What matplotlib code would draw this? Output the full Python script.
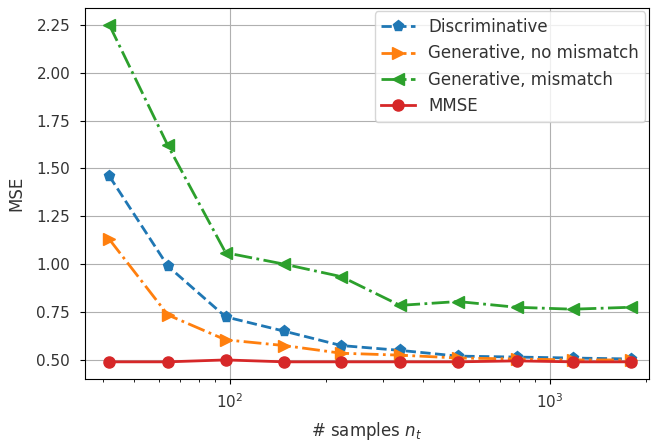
import numpy as np
import matplotlib.pyplot as plt

# number of samples per point (log-spaced)
n_samples = [42, 64, 97, 148, 223, 340, 516, 787, 1177, 1787]

mse_discriminative = [1.46, 0.99, 0.725, 0.65, 0.575, 0.55, 0.52, 0.515, 0.51, 0.505]
mse_gen_no_mismatch = [1.13, 0.735, 0.605, 0.575, 0.535, 0.525, 0.51, 0.505, 0.50, 0.50]
mse_gen_mismatch = [2.25, 1.62, 1.06, 1.0, 0.935, 0.785, 0.805, 0.775, 0.765, 0.775]
mse_mmse = [0.49, 0.49, 0.50, 0.49, 0.49, 0.49, 0.49, 0.495, 0.49, 0.49]

fig, ax = plt.subplots(figsize=(6.52, 4.45), dpi=100)
fig.subplots_adjust(left=0.13, right=0.995, top=0.982, bottom=0.149)

ax.plot(n_samples, mse_discriminative, 'p--', color='tab:blue', markersize=8,
        linewidth=2, label='Discriminative')
ax.plot(n_samples, mse_gen_no_mismatch, '>-.', color='tab:orange', markersize=8,
        linewidth=2, label='Generative, no mismatch')
ax.plot(n_samples, mse_gen_mismatch, '<-.', color='tab:green', markersize=8,
        linewidth=2, label='Generative, mismatch')
ax.plot(n_samples, mse_mmse, 'o-', color='tab:red', markersize=8,
        linewidth=2, label='MMSE')

ax.set_xscale('log')
ax.set_xlim(35.2, 2036)
ax.set_xlabel('# samples $n_t$', fontsize=12, labelpad=7, color='#333333')
ax.set_ylabel('MSE', fontsize=12, labelpad=8, color='#333333')
ax.tick_params(labelsize=11, labelcolor='#333333')
ax.tick_params(axis='y', pad=7)
ax.tick_params(axis='x', pad=6)
ax.grid(True)
ax.legend(loc='upper right', fontsize=12, borderaxespad=0.2, labelcolor='#333333')

fig.savefig('out.png', dpi=100)
